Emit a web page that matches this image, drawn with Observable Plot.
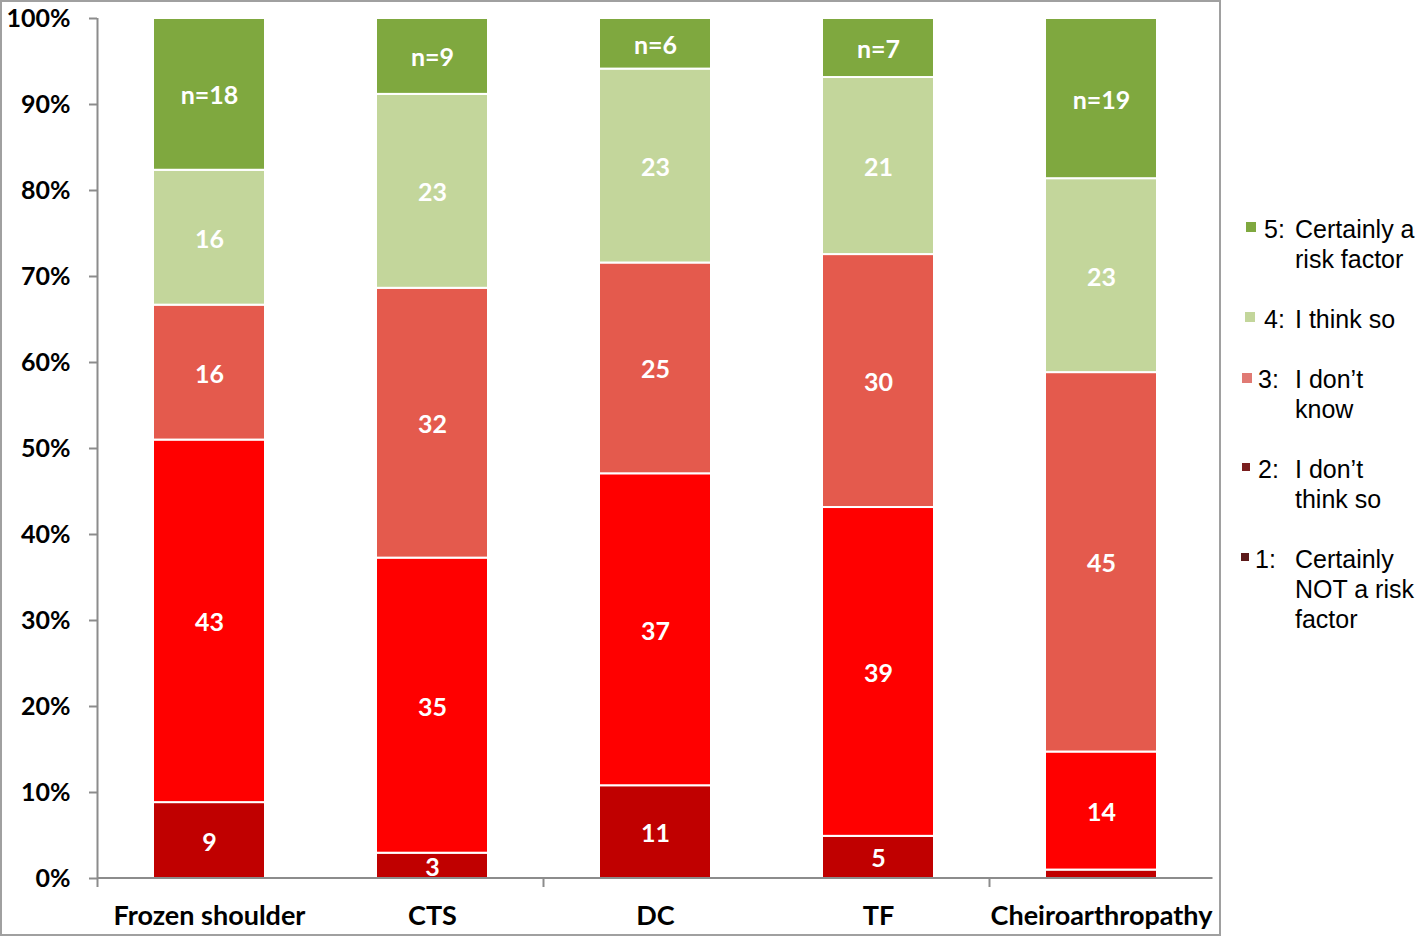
<!DOCTYPE html>
<html><head><meta charset="utf-8">
<script src="https://cdn.jsdelivr.net/npm/d3@7"></script>
<script src="https://cdn.jsdelivr.net/npm/@observablehq/plot@0.6"></script>
<style>
body{margin:0;background:#fff;}
#wrap{position:relative;width:1419px;height:937px;overflow:hidden;}
#frame{position:absolute;left:0;top:0;width:1221px;height:936px;border:2px solid #a0a0a0;box-sizing:border-box;pointer-events:none;}
.lg{position:absolute;font-family:"Liberation Sans",Arial,sans-serif;font-size:25px;color:#000;line-height:30px;}
.mk{position:absolute;}
</style></head>
<body><div id="wrap"><div id="chart"></div><div id="frame"></div></div>
<script>
const categories = ["Frozen shoulder","CTS","DC","TF","Cheiroarthropathy"];
const s1 = [9, 3, 11, 5, 1];     // 1: Certainly NOT a risk factor
const s2 = [43, 35, 37, 39, 14]; // 2: I don't think so
const s3 = [16, 32, 25, 30, 45]; // 3: I don't know
const s4 = [16, 23, 23, 21, 23]; // 4: I think so
const s5 = [18, 9, 6, 7, 19];    // 5: Certainly a risk factor
const levels = [1, 2, 3, 4, 5];
const barColors = ["#C00000", "#FF0000", "#E45A4D", "#C3D69B", "#7FA83F"];
const yTicks = [0, 0.1, 0.2, 0.3, 0.4, 0.5, 0.6, 0.7, 0.8, 0.9, 1];
const legendKeys = ["5:", "4:", "3:", "2:", "1:"];
const legendText = [["Certainly a", "risk factor"], ["I think so"], ["I don’t", "know"], ["I don’t", "think so"], ["Certainly", "NOT a risk", "factor"]];
const legendColors = ["#7FA83F", "#C3D69B", "#E07A74", "#7A1F1F", "#5C1A1A"];

const series = [s1, s2, s3, s4, s5];
const data = [];
series.forEach((s, i) => s.forEach((v, j) => data.push({cat: categories[j], level: levels[i], value: v})));

const labelText = d => d.level === 5 ? "n=" + d.value : (d.value < 2 ? "" : String(d.value));

const chart = Plot.plot({
  width: 1419, height: 937,
  marginLeft: 97, marginRight: 207, marginTop: 18, marginBottom: 59,
  x: {domain: categories, paddingInner: 0.5, paddingOuter: 0.25, label: null},
  y: {domain: [0, 1], label: null},
  color: {domain: levels, range: barColors},
  style: {fontFamily: "Lato, sans-serif", background: "transparent", overflow: "visible"},
  marks: [
    Plot.barY(data, Plot.stackY({offset: "normalize", x: "cat", y: "value", fill: "level", stroke: "white", strokeWidth: 2})),
    Plot.text(data, Plot.stackY({offset: "normalize", x: "cat", y: "value", z: "level", text: labelText,
      fill: "white", fontWeight: "bold", fontSize: 25, dy: 2})),
    Plot.axisY(yTicks, {tickFormat: d3.format(".0%"), tickSize: 8, tickPadding: 19, fontSize: 25, fontWeight: "bold",
      stroke: "#8c8c8c", strokeWidth: 2, fill: "black"}),
    Plot.axisX({tickSize: 0, tickPadding: 27, fontSize: 27, fontWeight: "bold", fill: "black"})
  ]
});
document.getElementById("chart").appendChild(chart);

// axis lines and category-boundary ticks from the scales
const xs = chart.scale("x"), ys = chart.scale("y");
const svg = d3.select(chart);
const gap = (xs.step - xs.bandwidth) / 2;
const x0 = xs.apply(categories[0]) - gap;
const x1 = xs.apply(categories[categories.length - 1]) + xs.bandwidth + gap;
const g = svg.append("g").attr("stroke", "#8c8c8c").attr("stroke-width", 2);
g.append("line").attr("x1", x0).attr("x2", x0).attr("y1", ys.apply(0)).attr("y2", ys.apply(1));
g.append("line").attr("x1", x0).attr("x2", x1).attr("y1", ys.apply(0)).attr("y2", ys.apply(0));
[0, 2, 4].forEach(i => {
  const xb = xs.apply(categories[i]) - gap;
  g.append("line").attr("x1", xb).attr("x2", xb).attr("y1", ys.apply(0)).attr("y2", ys.apply(0) + 9);
});

// legend
const wrap = document.getElementById("wrap");
let cy = 229;
legendKeys.forEach((k, i) => {
  const mk = document.createElement("div");
  mk.className = "mk";
  const sz = i < 3 ? 10 : 8;
  mk.style.cssText = `left:${1246 - (i > 1 ? 4 : i) - (i > 3 ? 1 : 0)}px;top:${cy - 6 - (i < 2 ? 1 : 0)}px;width:${sz}px;height:${sz}px;background:${legendColors[i]}`;
  wrap.appendChild(mk);
  const kd = document.createElement("div");
  kd.className = "lg";
  kd.style.left = (i < 2 ? 1264 : (i < 4 ? 1258 : 1255)) + "px";
  kd.style.top = (cy - 15) + "px";
  kd.textContent = k;
  wrap.appendChild(kd);
  const td = document.createElement("div");
  td.className = "lg";
  td.style.left = "1295px";
  td.style.top = (cy - 15) + "px";
  td.innerHTML = legendText[i].join("<br>");
  wrap.appendChild(td);
  cy += legendText[i].length * 30 + 30;
});
</script>
</body></html>
